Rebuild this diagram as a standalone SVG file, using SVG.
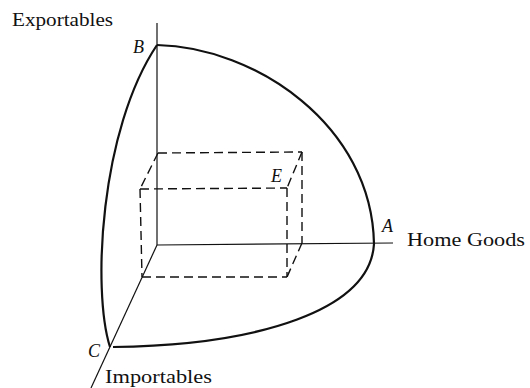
<svg xmlns="http://www.w3.org/2000/svg" width="530" height="388" viewBox="0 0 530 388">
<style>
.axis{stroke:#111;stroke-width:1.2;fill:none}
.curve{stroke:#111;stroke-width:2.2;fill:none;stroke-linejoin:round}
.dash{stroke:#111;stroke-width:1.4;fill:none;stroke-dasharray:9 5}
.lbl{font-family:"Liberation Serif",serif;font-size:18px;fill:#111}
.pt{font-family:"Liberation Serif",serif;font-size:18px;font-style:italic;fill:#111}
</style>
<rect width="530" height="388" fill="#fff"/>
<g id="axes">
<line class="axis" x1="157" y1="23" x2="157" y2="245"/>
<line class="axis" x1="157" y1="245" x2="393" y2="243"/>
<line class="axis" x1="157" y1="245" x2="91" y2="388"/>
</g>
<g id="surface">
<path class="curve" d="M157,45 C255,47 372,125 374,244"/>
<path class="curve" d="M374,244 C370,310 260,345 113,347"/>
<path class="curve" d="M110,347 C92,290 100,130 157,45"/>
</g>
<g id="box">
<line class="dash" x1="158" y1="153" x2="302" y2="152"/>
<line class="dash" x1="140" y1="189" x2="287" y2="188"/>
<line class="dash" x1="158" y1="153" x2="140" y2="189"/>
<line class="dash" x1="302" y1="152" x2="287" y2="188"/>
<line class="dash" x1="140" y1="189" x2="142" y2="277"/>
<line class="dash" x1="287" y1="188" x2="287" y2="277"/>
<line class="dash" x1="302" y1="152" x2="302" y2="243"/>
<line class="dash" x1="142" y1="277" x2="287" y2="277"/>
<line class="dash" x1="302" y1="243" x2="287" y2="277"/>
</g>
<g id="labels">
<text class="lbl" x="12" y="26" textLength="101" lengthAdjust="spacingAndGlyphs">Exportables</text>
<text class="lbl" x="407" y="246" textLength="118" lengthAdjust="spacingAndGlyphs">Home Goods</text>
<text class="lbl" x="105" y="383" textLength="107" lengthAdjust="spacingAndGlyphs">Importables</text>
<text class="pt" x="133" y="53">B</text>
<text class="pt" x="382" y="232">A</text>
<text class="pt" x="88" y="357">C</text>
<text class="pt" x="271" y="182">E</text>
</g>
</svg>
